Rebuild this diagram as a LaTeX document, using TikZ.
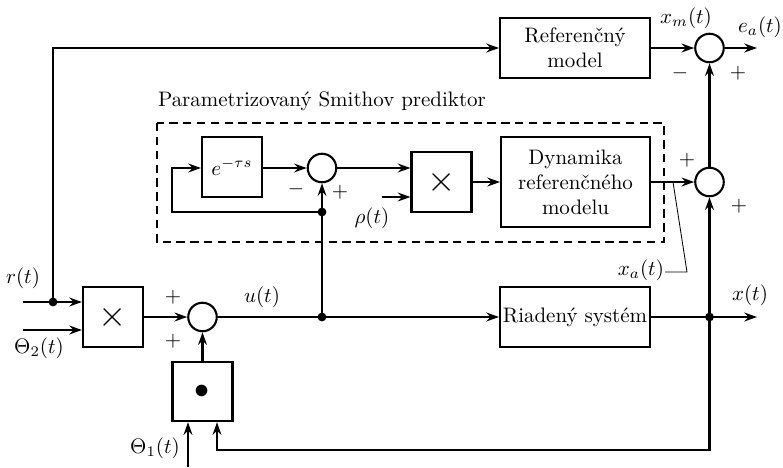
\documentclass[tikz,border=0pt]{standalone}
\usetikzlibrary{arrows.meta,calc}
\begin{document}
\begin{tikzpicture}[x=0.477pt,y=-0.477pt,
  line width=1pt,
  arr/.style={-{Stealth[length=6pt,width=4.2pt,inset=2pt]}},
  blk/.style={draw,line width=1pt,rectangle,inner sep=1pt,align=center},
  sumc/.style={draw,line width=1pt,circle,minimum size=13.6pt,inner sep=0pt},
  jdot/.style={circle,fill,inner sep=0pt,minimum size=4.2pt},
  lbl/.style={inner sep=0pt}]
\useasboundingbox (0,0) rectangle (783,467);

% blocks
\node[blk,minimum width=71.5pt,minimum height=28.6pt] (refm) at (575,48) {Referenčný\\model};
\node[sumc] (s1) at (709.5,48) {};
\node[blk,minimum width=71pt,minimum height=43pt] (dyn) at (575.5,182) {Dynamika\\referenčného\\modelu};
\node[sumc] (s2) at (709.5,182) {};
\node[blk,minimum width=28.6pt,minimum height=28.6pt] (delay) at (232,167) {$e^{-\tau s}$};
\node[sumc] (s3) at (322,168) {};
\node[blk,minimum width=28.6pt,minimum height=28.6pt] (mul2) at (441.5,182) {\LARGE$\times$};
\node[blk,minimum width=28.6pt,minimum height=28.6pt] (mul1) at (113,317) {\LARGE$\times$};
\node[sumc] (s4) at (202.5,317) {};
\node[blk,minimum width=71.5pt,minimum height=28.6pt] (plant) at (575,317) {Riadený systém};
\node[blk,minimum width=28.6pt,minimum height=28.3pt] (dotb) at (202.5,391.5) {\Large$\bullet$};

% dashed predictor frame
\draw[dash pattern=on 4pt off 2.6pt] (157,123) rectangle (664,242);
\node[lbl,anchor=west] (title) at (157,101) {Parametrizovaný Smithov prediktor};

% coordinates
\coordinate (rin) at (23,302);
\coordinate (t2in) at (23,330);
\coordinate (t1in) at (188,467);
\node[jdot] (j1) at (53,302) {};
\node[jdot] (ju) at (322,317) {};
\node[jdot] (jf) at (322,212) {};
\node[jdot] (jx) at (709.5,317) {};
\coordinate (xout) at (757,317);
\coordinate (eout) at (757,48);
\coordinate (rho) at (382,197);
\coordinate (tl) at (53,48);
\coordinate (fbl) at (172,212);
\coordinate (fbt) at (172,168);
\coordinate (br) at (709.5,450);
\coordinate (bl) at (217,450);

% connectors
\draw[arr] (rin) -- (j1.center) -- (mul1.west |- rin);
\draw[arr] (t2in) -- (mul1.west |- t2in);
\draw[arr] (j1.center) -- (tl) -- (refm.west);
\draw[arr] (mul1.east) -- (s4.west);
\draw[arr] (dotb.north) -- (s4.south);
\draw[arr] (s4.east) -- (ju.center) -- (plant.west);
\draw[arr] (plant.east) -- (jx.center) -- (xout);
\draw[arr] (jx.center) -- (s2.south);
\draw[arr] (s2.north) -- (s1.south);
\draw[arr] (refm.east) -- (s1.west);
\draw[arr] (s1.east) -- (eout);
\draw[arr] (dyn.east) -- (s2.west);
\draw[arr] (ju.center) -- (jf.center) -- (s3.south);
\draw[arr] (jf.center) -- (fbl) -- (fbt) -- (delay.west |- fbt);
\draw[arr] (delay.east |- s3.west) -- (s3.west);
\draw[arr] (s3.east) -- (mul2.west |- s3.east);
\draw[arr] (rho) -- (mul2.west |- rho);
\draw[arr] (mul2.east) -- (dyn.west);
\draw[arr] (jx.center) -- (br) -- (bl) -- (bl |- dotb.south);
\draw[arr] (t1in) -- (t1in |- dotb.south);

% x_a leader
\coordinate (xa1) at (673,182);
\coordinate (xa2) at (687,272);
\node[lbl,anchor=east] (xa) at (665,270) {$x_a(t)$};
\draw[line width=0.4pt] (xa1) -- (xa2) -- (xa.east |- xa2);

% labels
\node[lbl] (lr) at (23,278) {$r(t)$};
\node[lbl] (lt2) at (39,348) {$\Theta_2(t)$};
\node[lbl] (lt1) at (155,448) {$\Theta_1(t)$};
\node[lbl] (lu) at (262,297) {$u(t)$};
\node[lbl] (lx) at (750,295) {$x(t)$};
\node[lbl] (lxm) at (686,18) {$x_m(t)$};
\node[lbl] (lea) at (760,27) {$e_a(t)$};
\node[lbl] (lrho) at (372,218) {$\rho(t)$};
\node[lbl] (p1) at (173,297) {$+$};
\node[lbl] (p2) at (173,341) {$+$};
\node[lbl] (m1) at (680,73) {$-$};
\node[lbl] (p3) at (738,73) {$+$};
\node[lbl] (p4) at (687,160) {$+$};
\node[lbl] (p5) at (739,206) {$+$};
\node[lbl] (m2) at (296,189) {$-$};
\node[lbl] (p6) at (340,192) {$+$};
\end{tikzpicture}
\end{document}
